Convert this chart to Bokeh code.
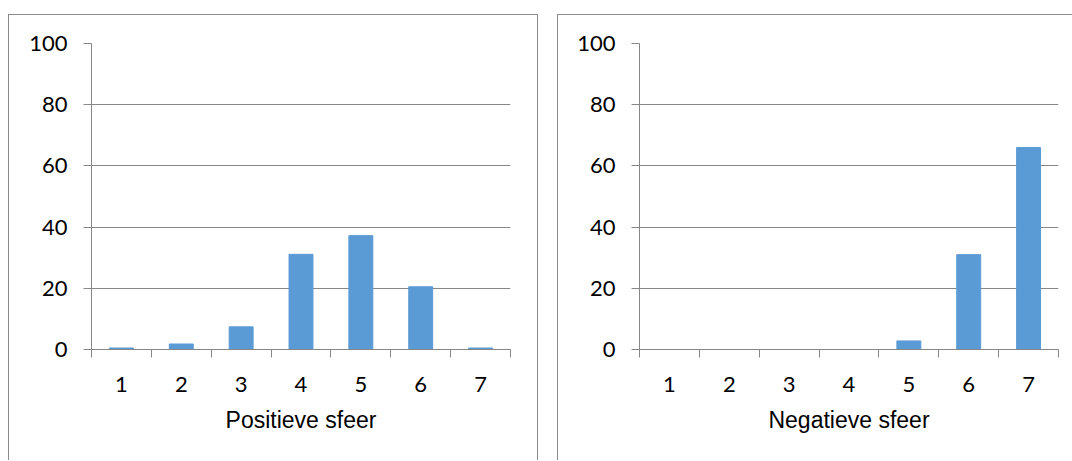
from bokeh.plotting import figure
from bokeh.layouts import row
from bokeh.models import FixedTicker
from bokeh.embed import file_html
from bokeh.resources import INLINE

categories = [1, 2, 3, 4, 5, 6, 7]
positieve = [0.5, 1.8, 7.4, 31.1, 37.2, 20.5, 0.5]
negatieve = [0, 0, 0, 0, 2.8, 31.0, 66.0]
y_ticks = [0, 20, 40, 60, 80, 100]
titles = ["Positieve sfeer", "Negatieve sfeer"]

GRAY = "#878787"
BAR = "#5B9BD5"


def make(vals, title, width, ml, mr, borders, margin):
    p = figure(width=width, height=446, x_range=(0.5, 7.5), y_range=(0, 100),
               output_backend="svg", toolbar_location=None,
               min_border_left=ml, min_border_right=mr,
               min_border_top=28, min_border_bottom=112)
    p.outline_line_color = None
    p.vbar(x=categories, top=vals, width=0.4, fill_color=BAR, line_color=BAR)

    bounds = [c - 0.5 for c in categories] + [categories[-1] + 0.5]
    p.xaxis.ticker = FixedTicker(ticks=categories, minor_ticks=bounds)
    p.xaxis.major_tick_line_color = None
    p.xaxis.major_tick_out = 8
    p.xaxis.major_tick_in = 0
    p.xaxis.minor_tick_in = 0
    p.xaxis.minor_tick_out = 8
    p.xaxis.minor_tick_line_color = GRAY
    p.xaxis.axis_line_color = GRAY
    p.xaxis.major_label_standoff = 19
    p.xaxis.axis_label = title
    p.xaxis.axis_label_standoff = 12

    p.yaxis.ticker = FixedTicker(ticks=y_ticks, minor_ticks=[])
    p.yaxis.major_tick_out = 8
    p.yaxis.major_tick_in = 0
    p.yaxis.major_tick_line_color = GRAY
    p.yaxis.axis_line_color = GRAY
    p.yaxis.major_label_standoff = 16

    for ax in (p.xaxis, p.yaxis):
        ax.major_label_text_font = "Lato"
        ax.major_label_text_font_size = "22px"
        ax.major_label_text_color = "#000000"
        ax.axis_label_text_font = "Liberation Sans"
        ax.axis_label_text_font_size = "23px"
        ax.axis_label_text_font_style = "normal"
        ax.axis_label_text_color = "#000000"

    p.xgrid.visible = False
    p.ygrid.ticker = FixedTicker(ticks=y_ticks, minor_ticks=[])
    p.ygrid.grid_line_color = GRAY
    p.styles = borders
    p.margin = margin
    return p


b1 = {"border-top": "1px solid #8a8a8a", "border-left": "1px solid #8a8a8a",
      "border-right": "1px solid #8a8a8a"}
b2 = {"border-top": "1px solid #8a8a8a", "border-left": "1px solid #8a8a8a"}

p1 = make(positieve, titles[0], 530, 82, 29, b1, (14, 0, 0, 8))
p2 = make(negatieve, titles[1], 515, 81, 15, b2, (14, 0, 0, 0))

layout = row(p1, p2, spacing=19)
open("out.html", "w").write(file_html(layout, INLINE))
